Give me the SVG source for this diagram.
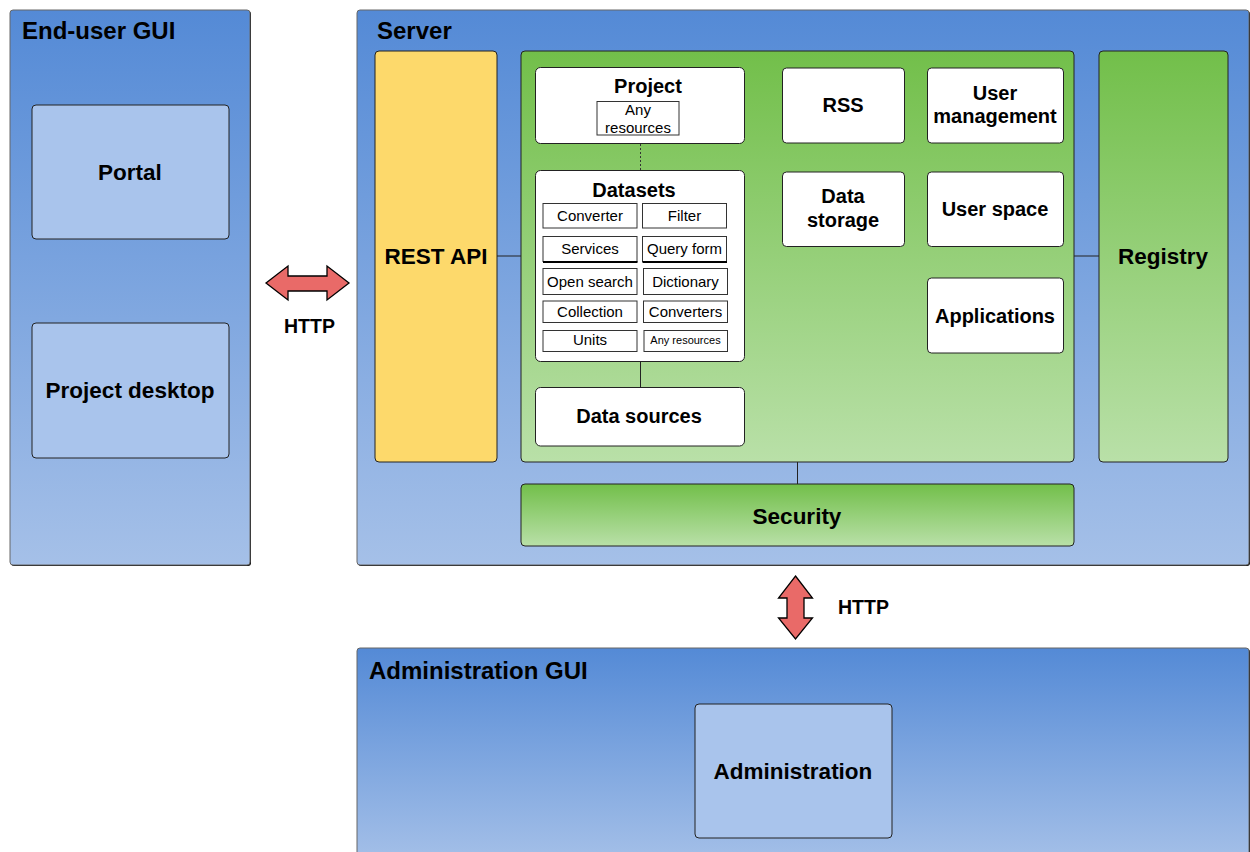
<svg xmlns="http://www.w3.org/2000/svg" width="1250" height="852" viewBox="0 0 1250 852">
<defs>
<linearGradient id="gBlue" x1="0" y1="0" x2="0" y2="1"><stop offset="0" stop-color="#548ad6"/><stop offset="1" stop-color="#a5c0e8"/></linearGradient>
<linearGradient id="gGreen" x1="0" y1="0" x2="0" y2="1"><stop offset="0" stop-color="#72bf4a"/><stop offset="1" stop-color="#b9e0a8"/></linearGradient>
<style>
.cont{fill:url(#gBlue);stroke:#666;stroke-width:1}
.shadow{fill:#111}
.lblue{fill:#a9c4ec;stroke:#222;stroke-width:1}
.green{fill:url(#gGreen);stroke:#222;stroke-width:1}
.yellow{fill:#fdd96b;stroke:#222;stroke-width:1}
.white{fill:#fff;stroke:#222;stroke-width:1}
.cell{fill:#fff;stroke:#333;stroke-width:1}
.arrow{fill:#e96a68;stroke:#000;stroke-width:1.3;stroke-linejoin:miter}
.conn{stroke:#222;stroke-width:1;fill:none}
.dot{stroke:#333;stroke-width:1;fill:none;stroke-dasharray:2,2}
text{font-family:"Liberation Sans",Arial,sans-serif;fill:#000}
.title{font-size:24px;font-weight:bold}
.b20{font-size:20px;font-weight:bold;text-anchor:middle}
.b22{font-size:22.5px;font-weight:bold;text-anchor:middle}
.r15{font-size:15px;text-anchor:middle}
.r11{font-size:11px;text-anchor:middle}
.http{font-size:19.5px;font-weight:bold}
</style>
</defs>
<rect width="1250" height="852" fill="#fff"/>

<g id="end-user-gui">
<rect class="shadow" x="11" y="11" width="240" height="555" rx="3"/>
<rect class="cont" x="10" y="10" width="240" height="555" rx="3"/>
<text class="title" x="22" y="39">End-user GUI</text>
</g>
<g id="portal">
<rect class="lblue" x="32" y="105" width="197" height="134" rx="4"/>
<text class="b22" x="130" y="180">Portal</text>
</g>
<g id="project-desktop">
<rect class="lblue" x="32" y="323" width="197" height="135" rx="4"/>
<text class="b22" x="130" y="398">Project desktop</text>
</g>

<g id="server">
<rect class="shadow" x="358" y="11" width="892" height="555" rx="3"/>
<rect class="cont" x="357" y="10" width="892" height="555" rx="3"/>
<text class="title" x="377" y="39">Server</text>
</g>

<g id="rest-api">
<rect class="yellow" x="375" y="51" width="122" height="411" rx="4"/>
<text class="b22" x="436" y="264">REST API</text>
</g>
<g id="core">
<rect class="green" x="521" y="51" width="553" height="411" rx="4"/>
</g>
<g id="registry">
<rect class="green" x="1099" y="51" width="129" height="411" rx="4"/>
<text class="b22" x="1163" y="264">Registry</text>
</g>
<g id="security">
<rect class="green" x="521" y="484" width="553" height="62" rx="4"/>
<text class="b22" x="797" y="524">Security</text>
</g>

<g id="project">
<rect class="white" x="535.5" y="67.5" width="209" height="76" rx="5"/>
<text class="b20" x="648" y="93">Project</text>
<rect class="cell" x="597" y="101.5" width="82" height="33.5"/>
<text class="r15" x="638" y="115">Any</text>
<text class="r15" x="638" y="132.5">resources</text>
</g>
<g id="datasets">
<rect class="white" x="535.5" y="170.5" width="209" height="191" rx="5"/>
<text class="b20" x="634" y="197">Datasets</text>
<rect class="cell" x="543" y="203.5" width="94" height="24.5"/>
<text class="r15" x="590" y="221">Converter</text>
<rect class="cell" x="642.5" y="203.5" width="84" height="24.5"/>
<text class="r15" x="684.5" y="221">Filter</text>
<rect class="cell" x="543" y="236.5" width="94" height="25"/>
<line x1="543" y1="262" x2="637.5" y2="262" stroke="#000" stroke-width="2"/>
<text class="r15" x="590" y="254">Services</text>
<rect class="cell" x="642.5" y="236.5" width="84" height="25"/>
<line x1="642.5" y1="262" x2="727" y2="262" stroke="#000" stroke-width="2"/>
<text class="r15" x="684.5" y="254">Query form</text>
<rect class="cell" x="543" y="268.5" width="94" height="26"/>
<text class="r15" x="590" y="287">Open search</text>
<rect class="cell" x="643.5" y="268.5" width="84" height="26"/>
<text class="r15" x="685.5" y="287">Dictionary</text>
<rect class="cell" x="543" y="301" width="94" height="21.5"/>
<text class="r15" x="590" y="317">Collection</text>
<rect class="cell" x="643.5" y="301" width="84" height="21.5"/>
<text class="r15" x="685.5" y="317">Converters</text>
<rect class="cell" x="543" y="330.5" width="94" height="21"/>
<text class="r15" x="590" y="345">Units</text>
<rect class="cell" x="644" y="330.5" width="83.5" height="21"/>
<text class="r11" x="685.5" y="344">Any resources</text>
</g>
<g id="data-sources">
<rect class="white" x="535.5" y="387.5" width="209" height="58.5" rx="5"/>
<text class="b20" x="639" y="423">Data sources</text>
</g>
<g id="rss">
<rect class="white" x="782.5" y="68" width="122" height="75" rx="4"/>
<text class="b20" x="843" y="112">RSS</text>
</g>
<g id="user-management">
<rect class="white" x="927.5" y="68" width="136" height="75" rx="4"/>
<text class="b20" x="995" y="100">User</text>
<text class="b20" x="995" y="123">management</text>
</g>
<g id="data-storage">
<rect class="white" x="782.5" y="172" width="122" height="74.5" rx="4"/>
<text class="b20" x="843" y="203">Data</text>
<text class="b20" x="843" y="227">storage</text>
</g>
<g id="user-space">
<rect class="white" x="927.5" y="172" width="136" height="74.5" rx="4"/>
<text class="b20" x="995" y="216">User space</text>
</g>
<g id="applications">
<rect class="white" x="927.5" y="278" width="136" height="75" rx="4"/>
<text class="b20" x="995" y="323">Applications</text>
</g>

<g id="administration-gui">
<rect class="shadow" x="358" y="649" width="892" height="215" rx="3"/>
<rect class="cont" x="357" y="648" width="892" height="215" rx="3"/>
<text class="title" x="369" y="679">Administration GUI</text>
</g>
<g id="administration">
<rect class="lblue" x="695" y="704" width="197" height="134" rx="4"/>
<text class="b22" x="793" y="779">Administration</text>
</g>

<g id="connectors">
<line class="conn" x1="497" y1="256" x2="521" y2="256"/>
<line class="conn" x1="1074" y1="256" x2="1099" y2="256"/>
<line class="conn" x1="797.5" y1="462" x2="797.5" y2="484"/>
<line class="dot" x1="640.5" y1="144" x2="640.5" y2="170"/>
<line class="conn" x1="640.5" y1="362" x2="640.5" y2="387"/>
<path id="http-arrow-h" class="arrow" d="M266,283 L288,266 L288,276 L327,276 L327,266 L349,283 L327,300 L327,291 L288,291 L288,300 Z"/>
<path id="http-arrow-v" class="arrow" d="M795.5,576 L812.5,598 L804,598 L804,618 L812.5,618 L795.5,639 L778.5,618 L787,618 L787,598 L778.5,598 Z"/>
<text class="http" x="284" y="333">HTTP</text>
<text class="http" x="838" y="614">HTTP</text>
</g>
</svg>
